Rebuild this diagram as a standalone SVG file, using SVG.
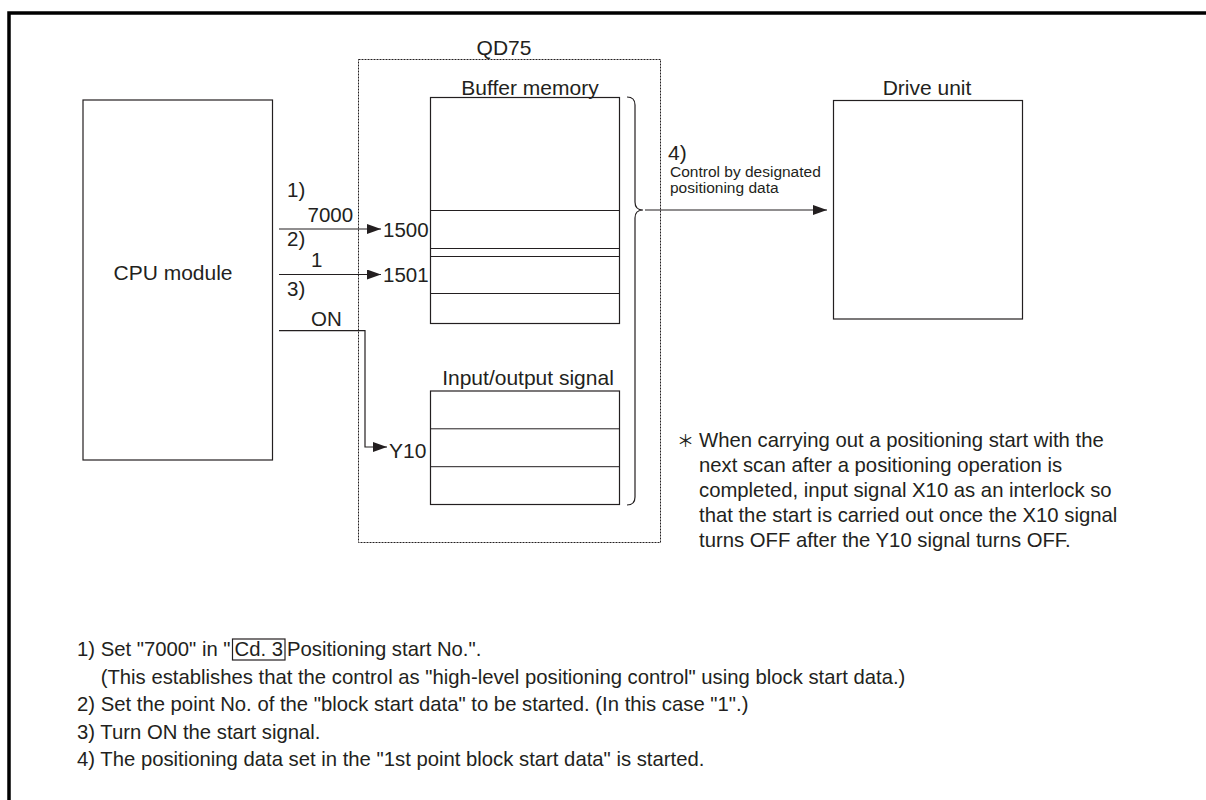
<svg xmlns="http://www.w3.org/2000/svg" width="1206" height="800" viewBox="0 0 1206 800">
<defs>
<marker id="ah" markerWidth="14" markerHeight="10" refX="14" refY="5" orient="auto" markerUnits="userSpaceOnUse">
<path d="M0,0 L14,5 L0,10 Z" fill="#231f20"/>
</marker>
<style>
text{font-family:"Liberation Sans",Arial,sans-serif;fill:#231f20}
.lbl{font-size:21px}
.num{font-size:20.5px}
.sm{font-size:15.5px}
.note{font-size:20.3px}
.box{fill:none;stroke:#231f20;stroke-width:1.2}
.row{fill:none;stroke:#231f20;stroke-width:1}
.dash{fill:none;stroke:#231f20;stroke-width:1;stroke-dasharray:2 1}
.conn{fill:none;stroke:#231f20;stroke-width:1.2}
</style>
</defs>
<rect width="1206" height="800" fill="#fff"/>
<path d="M9 800 V13 H1206" fill="none" stroke="#000" stroke-width="3.5"/>

<g id="qd75">
<rect class="dash" x="358.5" y="59.5" width="302" height="483"/>
<text class="lbl" x="504" y="55" text-anchor="middle">QD75</text>
</g>

<g id="cpu">
<rect class="box" x="83" y="100" width="189.5" height="360"/>
<text class="lbl" x="173" y="280" text-anchor="middle">CPU module</text>
</g>

<g id="buffer">
<text class="lbl" x="530" y="95" text-anchor="middle">Buffer memory</text>
<rect class="box" x="430.5" y="97.5" width="189" height="226"/>
<path class="row" d="M430.5 210.5 H619.5 M430.5 248.5 H619.5 M430.5 256.5 H619.5 M430.5 293.5 H619.5"/>
<text class="num" x="383" y="236.5">1500</text>
<text class="num" x="383" y="281.5">1501</text>
</g>

<g id="io">
<text class="lbl" x="528" y="385" text-anchor="middle">Input/output signal</text>
<rect class="box" x="430.5" y="391" width="189" height="113.5"/>
<path class="row" d="M430.5 428.8 H619.5 M430.5 466.7 H619.5"/>
<text class="lbl" x="389" y="458">Y10</text>
</g>

<g id="drive">
<text class="lbl" x="927" y="95" text-anchor="middle">Drive unit</text>
<rect class="box" x="833.5" y="100.5" width="189" height="218.5"/>
</g>

<g id="connectors">
<path class="conn" d="M627 97 Q635 97 635 105 V202 Q635 210 643 210 Q635 210 635 218 V497 Q635 505 627 505"/>
<path class="conn" d="M279 229 H381" marker-end="url(#ah)"/>
<path class="conn" d="M279 274.5 H381" marker-end="url(#ah)"/>
<path class="conn" d="M279 330.7 H365 V447 H387" marker-end="url(#ah)"/>
<path class="conn" d="M645 210 H827" marker-end="url(#ah)"/>
<text class="num" x="287" y="197">1)</text>
<text class="num" x="307.5" y="222">7000</text>
<text class="num" x="287" y="246">2)</text>
<text class="num" x="311" y="267">1</text>
<text class="num" x="287" y="296">3)</text>
<text class="num" x="311" y="326">ON</text>
<text class="lbl" x="668" y="160">4)</text>
<text class="sm" x="670" y="177">Control by designated</text>
<text class="sm" x="670" y="193">positioning data</text>
</g>

<g id="note">
<text class="note" x="677" y="447" style="font-family:'Noto Sans CJK JP',sans-serif;font-size:17px">＊</text>
<text class="note" x="699" y="447">When carrying out a positioning start with the</text>
<text class="note" x="699" y="472">next scan after a positioning operation is</text>
<text class="note" x="699" y="497">completed, input signal X10 as an interlock so</text>
<text class="note" x="699" y="522">that the start is carried out once the X10 signal</text>
<text class="note" x="699" y="547">turns OFF after the Y10 signal turns OFF.</text>
</g>

<g id="legend">
<text class="note" x="77" y="656">1) Set "7000" in "</text>
<rect x="232.5" y="639" width="52.5" height="21" fill="none" stroke="#231f20" stroke-width="1.2"/>
<text class="note" x="234.5" y="656">Cd. 3</text>
<text class="note" x="287" y="656">Positioning start No.".</text>
<text class="note" x="100.7" y="683.5">(This establishes that the control as "high-level positioning control" using block start data.)</text>
<text class="note" x="77" y="711">2) Set the point No. of the "block start data" to be started. (In this case "1".)</text>
<text class="note" x="77" y="738.5">3) Turn ON the start signal.</text>
<text class="note" x="77" y="766">4) The positioning data set in the "1st point block start data" is started.</text>
</g>
</svg>
